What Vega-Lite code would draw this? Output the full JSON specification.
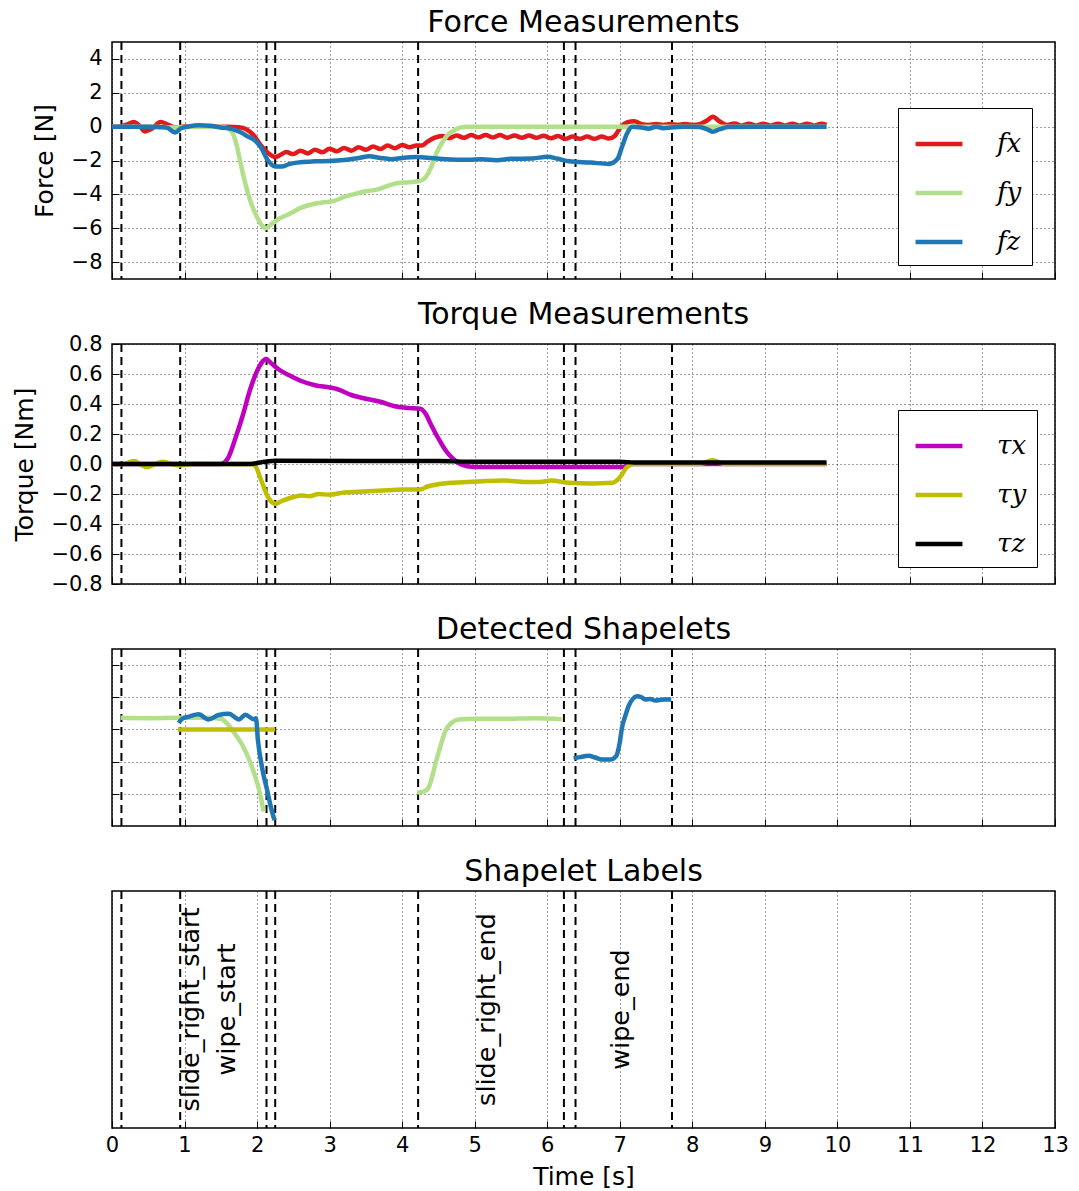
{
 "$schema": "https://vega.github.io/schema/vega-lite/v6.json",
 "background": "white",
 "padding": {"left": 11, "top": 7, "right": 10, "bottom": 0},
 "bounds": "flush",
 "spacing": 65,
 "config": {
  "font": "DejaVu Sans",
  "view": {"stroke": "black", "strokeWidth": 1.5},
  "axis": {"grid": true, "gridColor": "black", "gridDash": [1, 3], "gridWidth": 1, "gridOpacity": 0.75, "domain": false, "ticks": true, "tickColor": "black", "tickSize": -7, "tickWidth": 1, "labelFontSize": 21, "labelColor": "black", "labelPadding": 17, "titleFontSize": 25, "titleFontWeight": "normal", "titleColor": "black", "titlePadding": 14},
  "axisX": {"labelPadding": 13, "labelFlush": false},
  "title": {"fontSize": 30, "fontWeight": "normal", "color": "black", "offset": 3},
  "legend": {"orient": "none", "title": null, "strokeColor": "black", "fillColor": "white", "padding": 10, "symbolOffset": 5, "symbolType": "stroke", "symbolSize": 2200, "symbolStrokeWidth": 4.5, "labelFontSize": 26, "labelFont": "DejaVu Serif", "labelFontStyle": "italic", "labelColor": "black", "rowPadding": 10, "labelOffset": 32, "cornerRadius": 0}
 },
 "datasets": {
  "events": [{"t": 0.13}, {"t": 0.94}, {"t": 2.13}, {"t": 2.25}, {"t": 4.22}, {"t": 6.23}, {"t": 6.39}, {"t": 7.72}],
  "labels": [{"t": 0.92, "label": "slide_right_start\nwipe_start", "y": 0.5}, {"t": 5.0, "label": "slide_right_end", "y": 0.5}, {"t": 6.85, "label": "wipe_end", "y": 0.5}],
  "force": [
   {"s":"fx","t":0,"v":0},{"s":"fx","t":0.1,"v":0},{"s":"fx","t":0.2,"v":0.12},{"s":"fx","t":0.3,"v":0.27},{"s":"fx","t":0.38,"v":0.05},{"s":"fx","t":0.45,"v":-0.28},{"s":"fx","t":0.55,"v":-0.12},{"s":"fx","t":0.67,"v":0.27},{"s":"fx","t":0.78,"v":0.1},{"s":"fx","t":0.88,"v":-0.05},{"s":"fx","t":1.0,"v":0.02},{"s":"fx","t":1.2,"v":0.03},{"s":"fx","t":1.4,"v":0},{"s":"fx","t":1.6,"v":0},{"s":"fx","t":1.75,"v":-0.03},{"s":"fx","t":1.85,"v":-0.15},{"s":"fx","t":1.95,"v":-0.5},{"s":"fx","t":2.05,"v":-1.1},{"s":"fx","t":2.15,"v":-1.55},{"s":"fx","t":2.25,"v":-1.8},{"s":"fx","t":2.33,"v":-1.65},{"s":"fx","t":2.4,"v":-1.5},{"s":"fx","t":2.5,"v":-1.62},{"s":"fx","t":2.6,"v":-1.42},{"s":"fx","t":2.7,"v":-1.58},{"s":"fx","t":2.8,"v":-1.36},{"s":"fx","t":2.9,"v":-1.52},{"s":"fx","t":3.0,"v":-1.3},{"s":"fx","t":3.1,"v":-1.46},{"s":"fx","t":3.2,"v":-1.26},{"s":"fx","t":3.3,"v":-1.42},{"s":"fx","t":3.4,"v":-1.22},{"s":"fx","t":3.5,"v":-1.37},{"s":"fx","t":3.6,"v":-1.17},{"s":"fx","t":3.7,"v":-1.32},{"s":"fx","t":3.8,"v":-1.12},{"s":"fx","t":3.9,"v":-1.27},{"s":"fx","t":4.0,"v":-1.08},{"s":"fx","t":4.1,"v":-1.22},{"s":"fx","t":4.2,"v":-1.12},{"s":"fx","t":4.27,"v":-1.12},{"s":"fx","t":4.35,"v":-0.88},{"s":"fx","t":4.45,"v":-0.65},{"s":"fx","t":4.55,"v":-0.55},{"s":"fx","t":4.65,"v":-0.68},{"s":"fx","t":4.75,"v":-0.52},{"s":"fx","t":4.85,"v":-0.66},{"s":"fx","t":4.95,"v":-0.5},{"s":"fx","t":5.05,"v":-0.64},{"s":"fx","t":5.15,"v":-0.5},{"s":"fx","t":5.25,"v":-0.64},{"s":"fx","t":5.35,"v":-0.5},{"s":"fx","t":5.45,"v":-0.65},{"s":"fx","t":5.55,"v":-0.52},{"s":"fx","t":5.65,"v":-0.66},{"s":"fx","t":5.75,"v":-0.52},{"s":"fx","t":5.85,"v":-0.66},{"s":"fx","t":5.95,"v":-0.54},{"s":"fx","t":6.05,"v":-0.68},{"s":"fx","t":6.15,"v":-0.56},{"s":"fx","t":6.25,"v":-0.72},{"s":"fx","t":6.35,"v":-0.58},{"s":"fx","t":6.45,"v":-0.72},{"s":"fx","t":6.55,"v":-0.58},{"s":"fx","t":6.65,"v":-0.72},{"s":"fx","t":6.75,"v":-0.58},{"s":"fx","t":6.85,"v":-0.7},{"s":"fx","t":6.93,"v":-0.55},{"s":"fx","t":7.0,"v":-0.1},{"s":"fx","t":7.1,"v":0.25},{"s":"fx","t":7.2,"v":0.32},{"s":"fx","t":7.3,"v":0.15},{"s":"fx","t":7.4,"v":0.1},{"s":"fx","t":7.5,"v":0.16},{"s":"fx","t":7.6,"v":0.1},{"s":"fx","t":7.7,"v":0.15},{"s":"fx","t":7.8,"v":0.1},{"s":"fx","t":7.9,"v":0.15},{"s":"fx","t":8.0,"v":0.1},{"s":"fx","t":8.1,"v":0.15},{"s":"fx","t":8.2,"v":0.35},{"s":"fx","t":8.28,"v":0.58},{"s":"fx","t":8.38,"v":0.3},{"s":"fx","t":8.48,"v":0.1},{"s":"fx","t":8.58,"v":0.18},{"s":"fx","t":8.68,"v":0.06},{"s":"fx","t":8.78,"v":0.17},{"s":"fx","t":8.88,"v":0.06},{"s":"fx","t":8.98,"v":0.17},{"s":"fx","t":9.08,"v":0.06},{"s":"fx","t":9.18,"v":0.17},{"s":"fx","t":9.28,"v":0.06},{"s":"fx","t":9.38,"v":0.17},{"s":"fx","t":9.48,"v":0.06},{"s":"fx","t":9.58,"v":0.17},{"s":"fx","t":9.68,"v":0.06},{"s":"fx","t":9.78,"v":0.17},{"s":"fx","t":9.85,"v":0.1},
   {"s":"fy","t":0,"v":0},{"s":"fy","t":0.5,"v":0},{"s":"fy","t":0.9,"v":-0.05},{"s":"fy","t":1.0,"v":0},{"s":"fy","t":1.5,"v":0},{"s":"fy","t":1.6,"v":-0.1},{"s":"fy","t":1.7,"v":-0.8},{"s":"fy","t":1.8,"v":-2.7},{"s":"fy","t":1.9,"v":-4.3},{"s":"fy","t":2.0,"v":-5.35},{"s":"fy","t":2.07,"v":-5.85},{"s":"fy","t":2.12,"v":-6.0},{"s":"fy","t":2.2,"v":-5.75},{"s":"fy","t":2.3,"v":-5.45},{"s":"fy","t":2.45,"v":-5.15},{"s":"fy","t":2.6,"v":-4.8},{"s":"fy","t":2.75,"v":-4.6},{"s":"fy","t":2.9,"v":-4.48},{"s":"fy","t":3.05,"v":-4.4},{"s":"fy","t":3.2,"v":-4.15},{"s":"fy","t":3.35,"v":-3.97},{"s":"fy","t":3.5,"v":-3.82},{"s":"fy","t":3.65,"v":-3.72},{"s":"fy","t":3.8,"v":-3.5},{"s":"fy","t":3.95,"v":-3.33},{"s":"fy","t":4.1,"v":-3.28},{"s":"fy","t":4.25,"v":-3.2},{"s":"fy","t":4.33,"v":-2.95},{"s":"fy","t":4.4,"v":-2.4},{"s":"fy","t":4.47,"v":-1.6},{"s":"fy","t":4.55,"v":-0.95},{"s":"fy","t":4.62,"v":-0.52},{"s":"fy","t":4.7,"v":-0.25},{"s":"fy","t":4.8,"v":-0.06},{"s":"fy","t":4.9,"v":0},{"s":"fy","t":6.0,"v":0},{"s":"fy","t":7.0,"v":0},{"s":"fy","t":8.0,"v":0},{"s":"fy","t":9.85,"v":0},
   {"s":"fz","t":0,"v":0},{"s":"fz","t":0.5,"v":0},{"s":"fz","t":0.75,"v":-0.05},{"s":"fz","t":0.87,"v":-0.35},{"s":"fz","t":0.95,"v":-0.1},{"s":"fz","t":1.05,"v":0},{"s":"fz","t":1.2,"v":0.08},{"s":"fz","t":1.35,"v":0.05},{"s":"fz","t":1.5,"v":-0.05},{"s":"fz","t":1.6,"v":-0.1},{"s":"fz","t":1.7,"v":-0.2},{"s":"fz","t":1.78,"v":-0.35},{"s":"fz","t":1.88,"v":-0.6},{"s":"fz","t":1.95,"v":-0.75},{"s":"fz","t":2.05,"v":-1.2},{"s":"fz","t":2.15,"v":-2.0},{"s":"fz","t":2.25,"v":-2.35},{"s":"fz","t":2.35,"v":-2.35},{"s":"fz","t":2.45,"v":-2.2},{"s":"fz","t":2.6,"v":-2.1},{"s":"fz","t":2.8,"v":-2.05},{"s":"fz","t":3.0,"v":-2.03},{"s":"fz","t":3.2,"v":-1.97},{"s":"fz","t":3.4,"v":-1.85},{"s":"fz","t":3.55,"v":-1.75},{"s":"fz","t":3.7,"v":-1.85},{"s":"fz","t":3.85,"v":-1.92},{"s":"fz","t":4.0,"v":-1.85},{"s":"fz","t":4.2,"v":-1.8},{"s":"fz","t":4.4,"v":-1.85},{"s":"fz","t":4.6,"v":-1.92},{"s":"fz","t":4.9,"v":-1.95},{"s":"fz","t":5.1,"v":-1.93},{"s":"fz","t":5.3,"v":-1.98},{"s":"fz","t":5.5,"v":-1.9},{"s":"fz","t":5.8,"v":-1.88},{"s":"fz","t":6.0,"v":-1.78},{"s":"fz","t":6.15,"v":-1.9},{"s":"fz","t":6.3,"v":-2.05},{"s":"fz","t":6.6,"v":-2.12},{"s":"fz","t":6.85,"v":-2.2},{"s":"fz","t":6.97,"v":-1.9},{"s":"fz","t":7.03,"v":-1.2},{"s":"fz","t":7.1,"v":-0.4},{"s":"fz","t":7.17,"v":0},{"s":"fz","t":7.3,"v":-0.05},{"s":"fz","t":7.4,"v":-0.12},{"s":"fz","t":7.5,"v":0},{"s":"fz","t":7.6,"v":-0.1},{"s":"fz","t":7.7,"v":-0.05},{"s":"fz","t":7.9,"v":0},{"s":"fz","t":8.1,"v":-0.02},{"s":"fz","t":8.2,"v":-0.15},{"s":"fz","t":8.28,"v":-0.3},{"s":"fz","t":8.38,"v":-0.15},{"s":"fz","t":8.5,"v":-0.02},{"s":"fz","t":9.0,"v":0},{"s":"fz","t":9.85,"v":0}
  ],
  "torque": [
   {"s":"τx","t":0,"v":0},{"s":"τx","t":1.5,"v":0},{"s":"τx","t":1.6,"v":0.04},{"s":"τx","t":1.7,"v":0.17},{"s":"τx","t":1.8,"v":0.32},{"s":"τx","t":1.9,"v":0.49},{"s":"τx","t":2.0,"v":0.62},{"s":"τx","t":2.07,"v":0.68},{"s":"τx","t":2.12,"v":0.7},{"s":"τx","t":2.2,"v":0.67},{"s":"τx","t":2.3,"v":0.63},{"s":"τx","t":2.45,"v":0.59},{"s":"τx","t":2.6,"v":0.555},{"s":"τx","t":2.8,"v":0.525},{"s":"τx","t":3.0,"v":0.51},{"s":"τx","t":3.1,"v":0.5},{"s":"τx","t":3.3,"v":0.46},{"s":"τx","t":3.5,"v":0.435},{"s":"τx","t":3.7,"v":0.415},{"s":"τx","t":3.9,"v":0.385},{"s":"τx","t":4.05,"v":0.375},{"s":"τx","t":4.25,"v":0.368},{"s":"τx","t":4.33,"v":0.33},{"s":"τx","t":4.4,"v":0.26},{"s":"τx","t":4.5,"v":0.17},{"s":"τx","t":4.6,"v":0.09},{"s":"τx","t":4.7,"v":0.035},{"s":"τx","t":4.8,"v":0},{"s":"τx","t":4.9,"v":-0.015},{"s":"τx","t":5.0,"v":-0.02},{"s":"τx","t":6.0,"v":-0.02},{"s":"τx","t":7.05,"v":-0.02},{"s":"τx","t":7.15,"v":0},{"s":"τx","t":9.85,"v":0},
   {"s":"τy","t":0,"v":0},{"s":"τy","t":0.15,"v":0},{"s":"τy","t":0.3,"v":0.02},{"s":"τy","t":0.47,"v":-0.02},{"s":"τy","t":0.7,"v":0.015},{"s":"τy","t":0.92,"v":-0.01},{"s":"τy","t":1.1,"v":0},{"s":"τy","t":1.9,"v":0},{"s":"τy","t":1.97,"v":-0.01},{"s":"τy","t":2.05,"v":-0.1},{"s":"τy","t":2.15,"v":-0.22},{"s":"τy","t":2.25,"v":-0.265},{"s":"τy","t":2.35,"v":-0.245},{"s":"τy","t":2.5,"v":-0.22},{"s":"τy","t":2.62,"v":-0.21},{"s":"τy","t":2.72,"v":-0.215},{"s":"τy","t":2.85,"v":-0.2},{"s":"τy","t":3.0,"v":-0.205},{"s":"τy","t":3.2,"v":-0.19},{"s":"τy","t":3.4,"v":-0.185},{"s":"τy","t":3.6,"v":-0.18},{"s":"τy","t":3.8,"v":-0.175},{"s":"τy","t":4.0,"v":-0.17},{"s":"τy","t":4.25,"v":-0.17},{"s":"τy","t":4.35,"v":-0.15},{"s":"τy","t":4.5,"v":-0.135},{"s":"τy","t":4.7,"v":-0.125},{"s":"τy","t":4.9,"v":-0.12},{"s":"τy","t":5.1,"v":-0.115},{"s":"τy","t":5.4,"v":-0.11},{"s":"τy","t":5.7,"v":-0.12},{"s":"τy","t":5.9,"v":-0.12},{"s":"τy","t":6.05,"v":-0.11},{"s":"τy","t":6.3,"v":-0.125},{"s":"τy","t":6.6,"v":-0.13},{"s":"τy","t":6.9,"v":-0.125},{"s":"τy","t":7.0,"v":-0.09},{"s":"τy","t":7.1,"v":-0.02},{"s":"τy","t":7.2,"v":0},{"s":"τy","t":8.1,"v":0},{"s":"τy","t":8.28,"v":0.025},{"s":"τy","t":8.45,"v":0},{"s":"τy","t":9.85,"v":0},
   {"s":"τz","t":0,"v":0},{"s":"τz","t":1.9,"v":0},{"s":"τz","t":2.1,"v":0.015},{"s":"τz","t":2.25,"v":0.022},{"s":"τz","t":3.5,"v":0.02},{"s":"τz","t":4.5,"v":0.02},{"s":"τz","t":5.0,"v":0.015},{"s":"τz","t":7.0,"v":0.015},{"s":"τz","t":7.2,"v":0.01},{"s":"τz","t":9.85,"v":0.01}
  ],
  "shapes": [
   {"seg":"g1","t":0.12,"v":0.36},{"seg":"g1","t":0.5,"v":0.35},{"seg":"g1","t":0.94,"v":0.36},{"seg":"g1","t":1.3,"v":0.36},{"seg":"g1","t":1.5,"v":0.33},{"seg":"g1","t":1.6,"v":0.15},{"seg":"g1","t":1.7,"v":-0.15},{"seg":"g1","t":1.8,"v":-0.5},{"seg":"g1","t":1.88,"v":-0.88},{"seg":"g1","t":1.95,"v":-1.3},{"seg":"g1","t":2.02,"v":-1.81},{"seg":"g1","t":2.06,"v":-2.2},{"seg":"g1","t":2.09,"v":-2.55},
   {"seg":"y1","t":0.91,"v":0},{"seg":"y1","t":2.25,"v":0},
   {"seg":"b1","t":0.92,"v":0.2},{"seg":"b1","t":0.965,"v":0.33},{"seg":"b1","t":1.06,"v":0.4},{"seg":"b1","t":1.195,"v":0.47},{"seg":"b1","t":1.33,"v":0.31},{"seg":"b1","t":1.47,"v":0.45},{"seg":"b1","t":1.61,"v":0.49},{"seg":"b1","t":1.75,"v":0.31},{"seg":"b1","t":1.84,"v":0.46},{"seg":"b1","t":1.95,"v":0.32},{"seg":"b1","t":1.985,"v":0.35},{"seg":"b1","t":2.01,"v":-0.3},{"seg":"b1","t":2.07,"v":-1.2},{"seg":"b1","t":2.14,"v":-1.9},{"seg":"b1","t":2.2,"v":-2.5},{"seg":"b1","t":2.24,"v":-2.82},
   {"seg":"g2","t":4.205,"v":-1.96},{"seg":"g2","t":4.3,"v":-1.93},{"seg":"g2","t":4.366,"v":-1.8},{"seg":"g2","t":4.41,"v":-1.5},{"seg":"g2","t":4.457,"v":-1.08},{"seg":"g2","t":4.53,"v":-0.5},{"seg":"g2","t":4.595,"v":-0.05},{"seg":"g2","t":4.68,"v":0.2},{"seg":"g2","t":4.78,"v":0.31},{"seg":"g2","t":5.0,"v":0.33},{"seg":"g2","t":5.376,"v":0.33},{"seg":"g2","t":5.835,"v":0.35},{"seg":"g2","t":6.2,"v":0.32},
   {"seg":"b2","t":6.364,"v":-0.9},{"seg":"b2","t":6.45,"v":-0.86},{"seg":"b2","t":6.57,"v":-0.82},{"seg":"b2","t":6.66,"v":-0.87},{"seg":"b2","t":6.755,"v":-0.93},{"seg":"b2","t":6.88,"v":-0.93},{"seg":"b2","t":6.95,"v":-0.83},{"seg":"b2","t":7.0,"v":-0.4},{"seg":"b2","t":7.03,"v":0.05},{"seg":"b2","t":7.08,"v":0.45},{"seg":"b2","t":7.12,"v":0.72},{"seg":"b2","t":7.18,"v":0.95},{"seg":"b2","t":7.237,"v":1.03},{"seg":"b2","t":7.3,"v":1.0},{"seg":"b2","t":7.35,"v":0.93},{"seg":"b2","t":7.42,"v":0.95},{"seg":"b2","t":7.49,"v":0.9},{"seg":"b2","t":7.6,"v":0.93},{"seg":"b2","t":7.71,"v":0.93}
  ]
 },
 "resolve": {"scale": {"color": "independent", "x": "independent", "y": "independent"}, "legend": {"color": "independent"}},
 "vconcat": [
  {
   "title": "Force Measurements",
   "width": 943, "height": 237,
   "encoding": {"x": {"field": "t", "type": "quantitative", "scale": {"domain": [0, 13], "nice": false}, "axis": {"values": [0,1,2,3,4,5,6,7,8,9,10,11,12,13], "labels": false, "title": null}}},
   "layer": [
    {"data": {"name": "events"}, "mark": {"type": "rule", "color": "black", "strokeWidth": 2, "strokeDash": [8, 5]}, "encoding": {}},
    {"data": {"name": "force"}, "mark": {"type": "line", "strokeWidth": 4.5, "interpolate": "monotone"},
     "encoding": {
      "y": {"field": "v", "type": "quantitative", "scale": {"domain": [-9, 5], "nice": false}, "axis": {"values": [-8,-6,-4,-2,0,2,4], "title": "Force [N]"}},
      "color": {"field": "s", "type": "nominal", "scale": {"domain": ["fx","fy","fz"], "range": ["#e31a1c","#b2df8a","#1f78b4"]}, "legend": {"legendX": 786, "legendY": 66}}
     }}
   ]
  },
  {
   "title": "Torque Measurements",
   "width": 943, "height": 240,
   "encoding": {"x": {"field": "t", "type": "quantitative", "scale": {"domain": [0, 13], "nice": false}, "axis": {"values": [0,1,2,3,4,5,6,7,8,9,10,11,12,13], "labels": false, "title": null}}},
   "layer": [
    {"data": {"name": "events"}, "mark": {"type": "rule", "color": "black", "strokeWidth": 2, "strokeDash": [8, 5]}, "encoding": {}},
    {"data": {"name": "torque"}, "mark": {"type": "line", "strokeWidth": 4.5, "interpolate": "monotone"},
     "encoding": {
      "y": {"field": "v", "type": "quantitative", "scale": {"domain": [-0.8, 0.8], "nice": false}, "axis": {"values": [-0.8,-0.6,-0.4,-0.2,0,0.2,0.4,0.6,0.8], "format": ".1f", "title": "Torque [Nm]"}},
      "color": {"field": "s", "type": "nominal", "scale": {"domain": ["τx","τy","τz"], "range": ["#bf00bf","#bfbf00","#000000"]}, "legend": {"legendX": 786, "legendY": 66}}
     }}
   ]
  },
  {
   "title": "Detected Shapelets",
   "width": 943, "height": 177,
   "encoding": {"x": {"field": "t", "type": "quantitative", "scale": {"domain": [0, 13], "nice": false}, "axis": {"values": [0,1,2,3,4,5,6,7,8,9,10,11,12,13], "labels": false, "title": null}}},
   "layer": [
    {"data": {"name": "events"}, "mark": {"type": "rule", "color": "black", "strokeWidth": 2, "strokeDash": [8, 5]}, "encoding": {}},
    {"data": {"name": "shapes"}, "mark": {"type": "line", "strokeWidth": 4.5, "interpolate": "monotone"},
     "encoding": {
      "y": {"field": "v", "type": "quantitative", "scale": {"domain": [-3, 2.5], "nice": false}, "axis": {"values": [-2,-1,0,1,2], "labels": false, "title": null}},
      "color": {"field": "seg", "type": "nominal", "scale": {"domain": ["g1","y1","b1","g2","b2"], "range": ["#b2df8a","#bfbf00","#1f78b4","#b2df8a","#1f78b4"]}, "legend": null}
     }}
   ]
  },
  {
   "title": "Shapelet Labels",
   "width": 943, "height": 237,
   "encoding": {"x": {"field": "t", "type": "quantitative", "scale": {"domain": [0, 13], "nice": false}, "axis": {"values": [0,1,2,3,4,5,6,7,8,9,10,11,12,13], "title": "Time [s]", "titlePadding": 9}}},
   "layer": [
    {"data": {"name": "events"}, "mark": {"type": "rule", "color": "black", "strokeWidth": 2, "strokeDash": [8, 5]}, "encoding": {}},
    {"data": {"name": "labels"}, "mark": {"type": "text", "angle": 270, "align": "center", "baseline": "top", "fontSize": 25.5, "lineBreak": "\n", "lineHeight": 36, "color": "black"},
     "encoding": {
      "y": {"field": "y", "type": "quantitative", "scale": {"domain": [0, 1]}, "axis": null},
      "text": {"field": "label", "type": "nominal"}
     }}
   ]
  }
 ]
}
